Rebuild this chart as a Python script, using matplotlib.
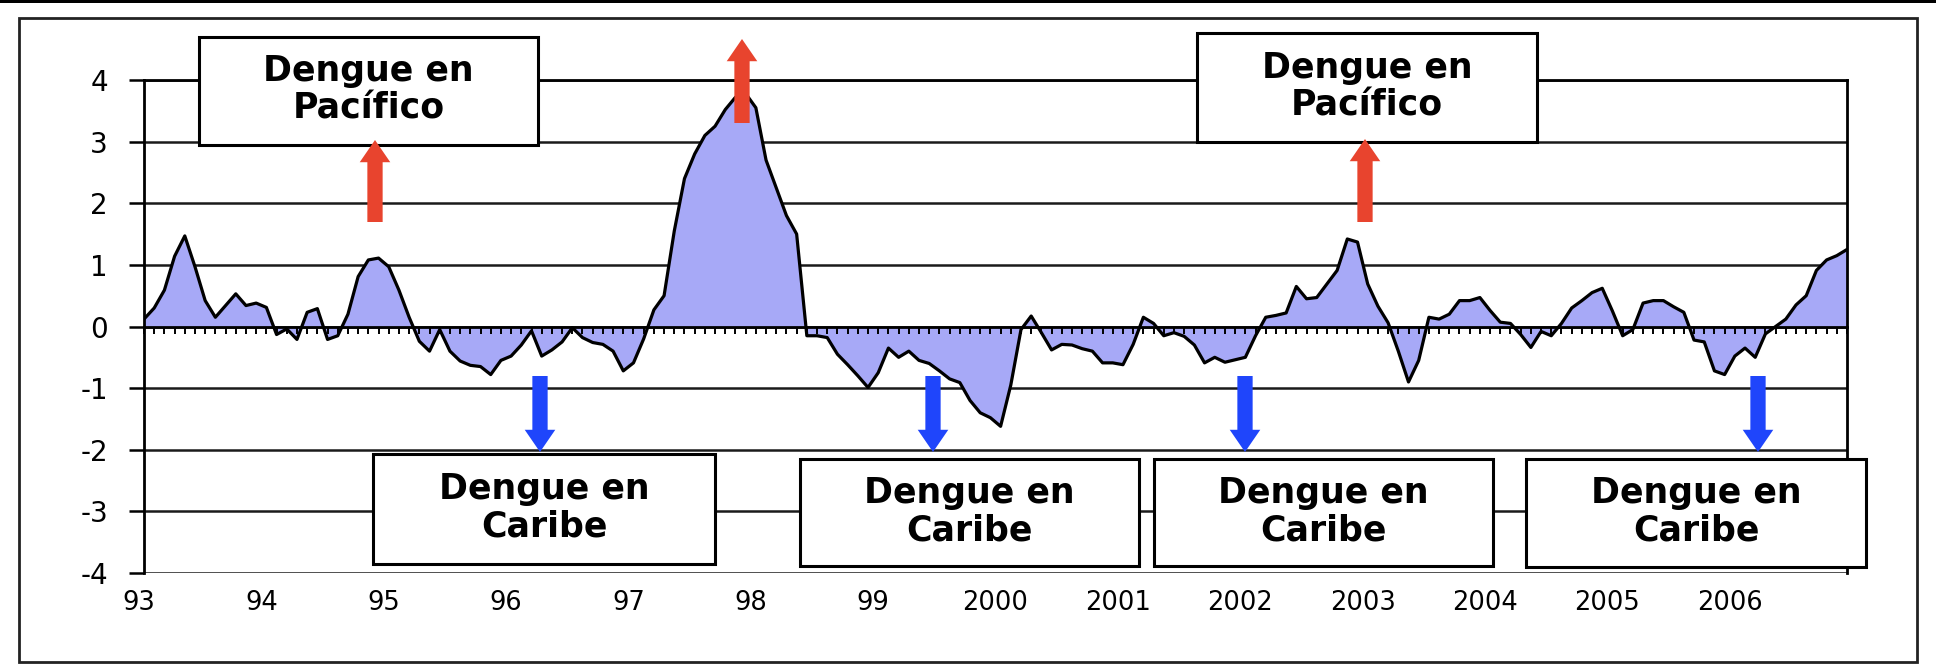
import matplotlib.pyplot as plt
from matplotlib.patches import Rectangle, FancyArrowPatch, ArrowStyle
import numpy as np

# Monthly index values, Jan..Dec of each year
y1993 = [0.12, 0.30, 0.59, 1.14, 1.47, 0.97, 0.42, 0.15, 0.34, 0.53, 0.34, 0.38]
y1994 = [0.31, -0.13, -0.04, -0.21, 0.23, 0.29, -0.21, -0.15, 0.20, 0.81, 1.08, 1.11]
y1995 = [0.97, 0.59, 0.15, -0.24, -0.40, -0.05, -0.40, -0.56, -0.63, -0.65, -0.78, -0.55]
y1996 = [-0.48, -0.30, -0.07, -0.48, -0.38, -0.25, -0.02, -0.18, -0.26, -0.29, -0.40, -0.72]
y1997 = [-0.59, -0.20, 0.27, 0.50, 1.55, 2.40, 2.80, 3.10, 3.25, 3.52, 3.72, 3.78]
y1998 = [3.55, 2.70, 2.25, 1.80, 1.50, -0.15, -0.15, -0.18, -0.45, -0.62, -0.80, -0.99]
y1999 = [-0.75, -0.35, -0.50, -0.40, -0.55, -0.60, -0.72, -0.85, -0.91, -1.20, -1.40, -1.48]
y2000 = [-1.62, -0.95, -0.05, 0.17, -0.10, -0.38, -0.29, -0.30, -0.36, -0.40, -0.59, -0.59]
y2001 = [-0.62, -0.29, 0.15, 0.05, -0.15, -0.10, -0.16, -0.30, -0.59, -0.50, -0.58, -0.54]
y2002 = [-0.50, -0.15, 0.15, 0.18, 0.22, 0.65, 0.45, 0.47, 0.69, 0.91, 1.42, 1.37]
y2003 = [0.69, 0.33, 0.06, -0.40, -0.90, -0.55, 0.15, 0.12, 0.20, 0.42, 0.42, 0.47]
y2004 = [0.26, 0.07, 0.05, -0.13, -0.34, -0.08, -0.15, 0.05, 0.30, 0.42, 0.55, 0.62]
y2005 = [0.25, -0.15, -0.05, 0.38, 0.42, 0.42, 0.32, 0.23, -0.22, -0.25, -0.72, -0.78]
y2006 = [-0.48, -0.35, -0.50, -0.12, 0.00, 0.12, 0.35, 0.50, 0.91, 1.08, 1.15, 1.25]

year_labels = ["93", "94", "95", "96", "97", "98", "99", "2000",
               "2001", "2002", "2003", "2004", "2005", "2006"]
y_ticks = [-4, -3, -2, -1, 0, 1, 2, 3, 4]

box_text_pacifico = "Dengue en\nPacífico"
box_text_caribe = "Dengue en\nCaribe"

series = (y1993 + y1994 + y1995 + y1996 + y1997 + y1998 + y1999 +
          y2000 + y2001 + y2002 + y2003 + y2004 + y2005 + y2006)

W, H = 1936, 664


# pixel (from top-left) -> figure fraction
def fx(px):
    return px / W


def fy(py):
    return 1 - py / H


plt.rcParams['font.family'] = ['DejaVu Sans']
plt.rcParams['axes.unicode_minus'] = False

fig = plt.figure(figsize=(W / 100, H / 100), dpi=100)
fig.patch.set_facecolor('white')

# Outer frame and the black band at the very top
fig.add_artist(Rectangle((0, fy(3)), 1, fy(0) - fy(3), transform=fig.transFigure,
                         facecolor='black', edgecolor='none'))
fig.add_artist(Rectangle((fx(19), fy(662)), fx(1917) - fx(19), fy(18) - fy(662),
                         transform=fig.transFigure, facecolor='none',
                         edgecolor='#222222', lw=2))

ax = fig.add_axes([fx(144), fy(573), fx(1847) - fx(144), fy(80) - fy(573)])
months = np.arange(len(series))
values = np.array(series)

# Horizontal gridlines sit behind the filled area
for v in y_ticks:
    ax.axhline(v, color='#1a1a1a', lw=1.8, zorder=0.5)

ax.fill_between(months, values, 0, color='#a7a9f7', linewidth=0, zorder=1)
ax.plot(months, values, color='black', lw=2.3, zorder=3)

ax.set_xlim(0, len(series) - 1)
ax.set_ylim(-4, 4)

# Spines: category axis crosses at zero
ax.spines['bottom'].set_position(('data', 0))
for s in ['left', 'top', 'right', 'bottom']:
    ax.spines[s].set_linewidth(2)
    ax.spines[s].set_color('black')

ax.set_yticks(y_ticks)
ax.set_yticklabels([str(v) for v in y_ticks])
ax.tick_params(axis='y', direction='out', length=11, width=1.8, pad=15,
               labelsize=20, colors='black')

# Monthly minor ticks hanging under the zero line
ax.set_xticks(months)
ax.tick_params(axis='x', direction='out', length=5, width=1.4,
               labelbottom=False, colors='black')

# Year labels below the plot
for k, lab in enumerate(year_labels):
    ax.text(12 * k - 0.5, -0.061, lab, transform=ax.get_xaxis_transform(),
            ha='center', va='center', fontsize=18.5, color='black')


# Text boxes
def add_box(x0, y0, x1, y1, label):
    fig.add_artist(Rectangle((fx(x0), fy(y1)), fx(x1) - fx(x0), fy(y0) - fy(y1),
                             transform=fig.transFigure, facecolor='white',
                             edgecolor='black', lw=2.2, zorder=4))
    fig.text(fx((x0 + x1) / 2), fy((y0 + y1) / 2 - 1), label, ha='center',
             va='center', fontsize=25, fontweight='bold', linespacing=1.14,
             color='black', zorder=5)


add_box(199, 37, 538, 145, box_text_pacifico)
add_box(1197, 33, 1537, 142, box_text_pacifico)
add_box(373, 454, 715, 564, box_text_caribe)
add_box(800, 459, 1139, 566, box_text_caribe)
add_box(1154, 459, 1493, 566, box_text_caribe)
add_box(1526, 459, 1866, 567, box_text_caribe)


# Block arrows
def add_arrow(x, y_from, y_to, color):
    style = ArrowStyle.Simple(head_length=16, head_width=22, tail_width=11)
    fig.add_artist(FancyArrowPatch((fx(x), fy(y_from)), (fx(x), fy(y_to)),
                                   transform=fig.transFigure, arrowstyle=style,
                                   mutation_scale=1, shrinkA=0, shrinkB=0,
                                   color=color, lw=0, zorder=6))


red = '#e8442e'
blue = '#1f45fb'
add_arrow(375, 222, 140, red)
add_arrow(742, 123, 39, red)
add_arrow(1365, 222, 139, red)
add_arrow(540, 376, 452, blue)
add_arrow(933, 376, 452, blue)
add_arrow(1245, 376, 452, blue)
add_arrow(1758, 376, 452, blue)

fig.savefig('out.png', dpi=100)
